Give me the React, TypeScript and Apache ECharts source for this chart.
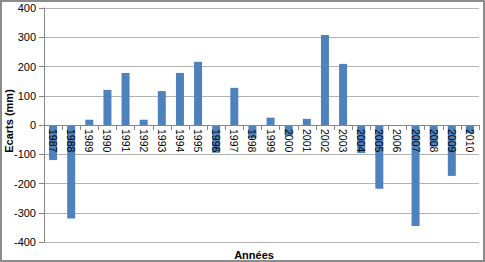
import React, { useEffect, useRef } from "react";
import * as echarts from "echarts";

const years = [
  "1987", "1988", "1989", "1990", "1991", "1992", "1993", "1994",
  "1995", "1996", "1997", "1998", "1999", "2000", "2001", "2002",
  "2003", "2004", "2005", "2006", "2007", "2008", "2009", "2010",
];
const ecarts = [
  -120, -320, 18, 120, 178, 18, 116, 178,
  216, -95, 127, -45, 25, -37, 21, 308,
  209, -96, -218, 0, -345, -74, -174, -28,
];
const yTitle = "Ecarts (mm)";
const xTitle = "Années";

const GRID_TOP = 8;
const GRID_BOTTOM = 20;
const CHART_H = 262;

export default function App() {
  const ref = useRef<HTMLDivElement>(null);
  useEffect(() => {
    document.body.style.margin = "0";
    const chart = echarts.init(ref.current!, null, { renderer: "svg" });
    const font = "'Liberation Sans', Arial, sans-serif";
    const plotH = CHART_H - GRID_TOP - GRID_BOTTOM;
    const zeroOffset = -plotH / 2; // zero sits mid-way between -400 and 400
    chart.setOption({
      animation: false,
      backgroundColor: "#ffffff",
      grid: { left: 44, right: 6, top: GRID_TOP, bottom: GRID_BOTTOM, containLabel: false, outerBoundsMode: "none" },
      xAxis: {
        type: "category",
        data: years,
        position: "bottom",
        offset: zeroOffset,
        axisLine: { onZero: false, lineStyle: { color: "#868686", width: 1 } },
        axisTick: { show: true, length: 5, alignWithLabel: false, lineStyle: { color: "#868686" } },
        axisLabel: {
          interval: 0,
          rotate: -90,
          margin: 4,
          fontSize: 10.5,
          color: "#000",
          fontFamily: font,
        },
        splitLine: { show: false },
        z: 3,
      },
      yAxis: {
        type: "value",
        min: -400,
        max: 400,
        interval: 100,
        axisLine: { show: true, lineStyle: { color: "#868686" } },
        axisTick: { show: true, length: 5, lineStyle: { color: "#868686" } },
        axisLabel: { fontSize: 11, color: "#000", margin: 8, fontFamily: font },
        splitLine: { show: true, lineStyle: { color: "#b3b3b3", width: 1 } },
      },
      series: [
        {
          type: "bar",
          data: ecarts,
          barWidth: 8,
          itemStyle: { color: "#4f81bd" },
          z: 2,
        },
      ],
      graphic: [
        {
          type: "rect",
          shape: { x: 1, y: 1, width: 483, height: 260 },
          style: { fill: "none", stroke: "#8c8c8c", lineWidth: 2 },
          z: 100,
        },
        {
          type: "text",
          x: 9,
          y: 121,
          rotation: Math.PI / 2,
          style: {
            text: yTitle,
            fontSize: 11,
            fontWeight: "bold",
            fontFamily: font,
            fill: "#000",
            align: "center",
            verticalAlign: "middle",
          },
        },
        {
          type: "text",
          x: 254,
          y: 255,
          style: {
            text: xTitle,
            fontSize: 11,
            fontWeight: "bold",
            fontFamily: font,
            fill: "#000",
            align: "center",
            verticalAlign: "middle",
          },
        },
      ],
    });
    return () => chart.dispose();
  }, []);
  return <div ref={ref} style={{ width: 485, height: 262 }} />;
}
